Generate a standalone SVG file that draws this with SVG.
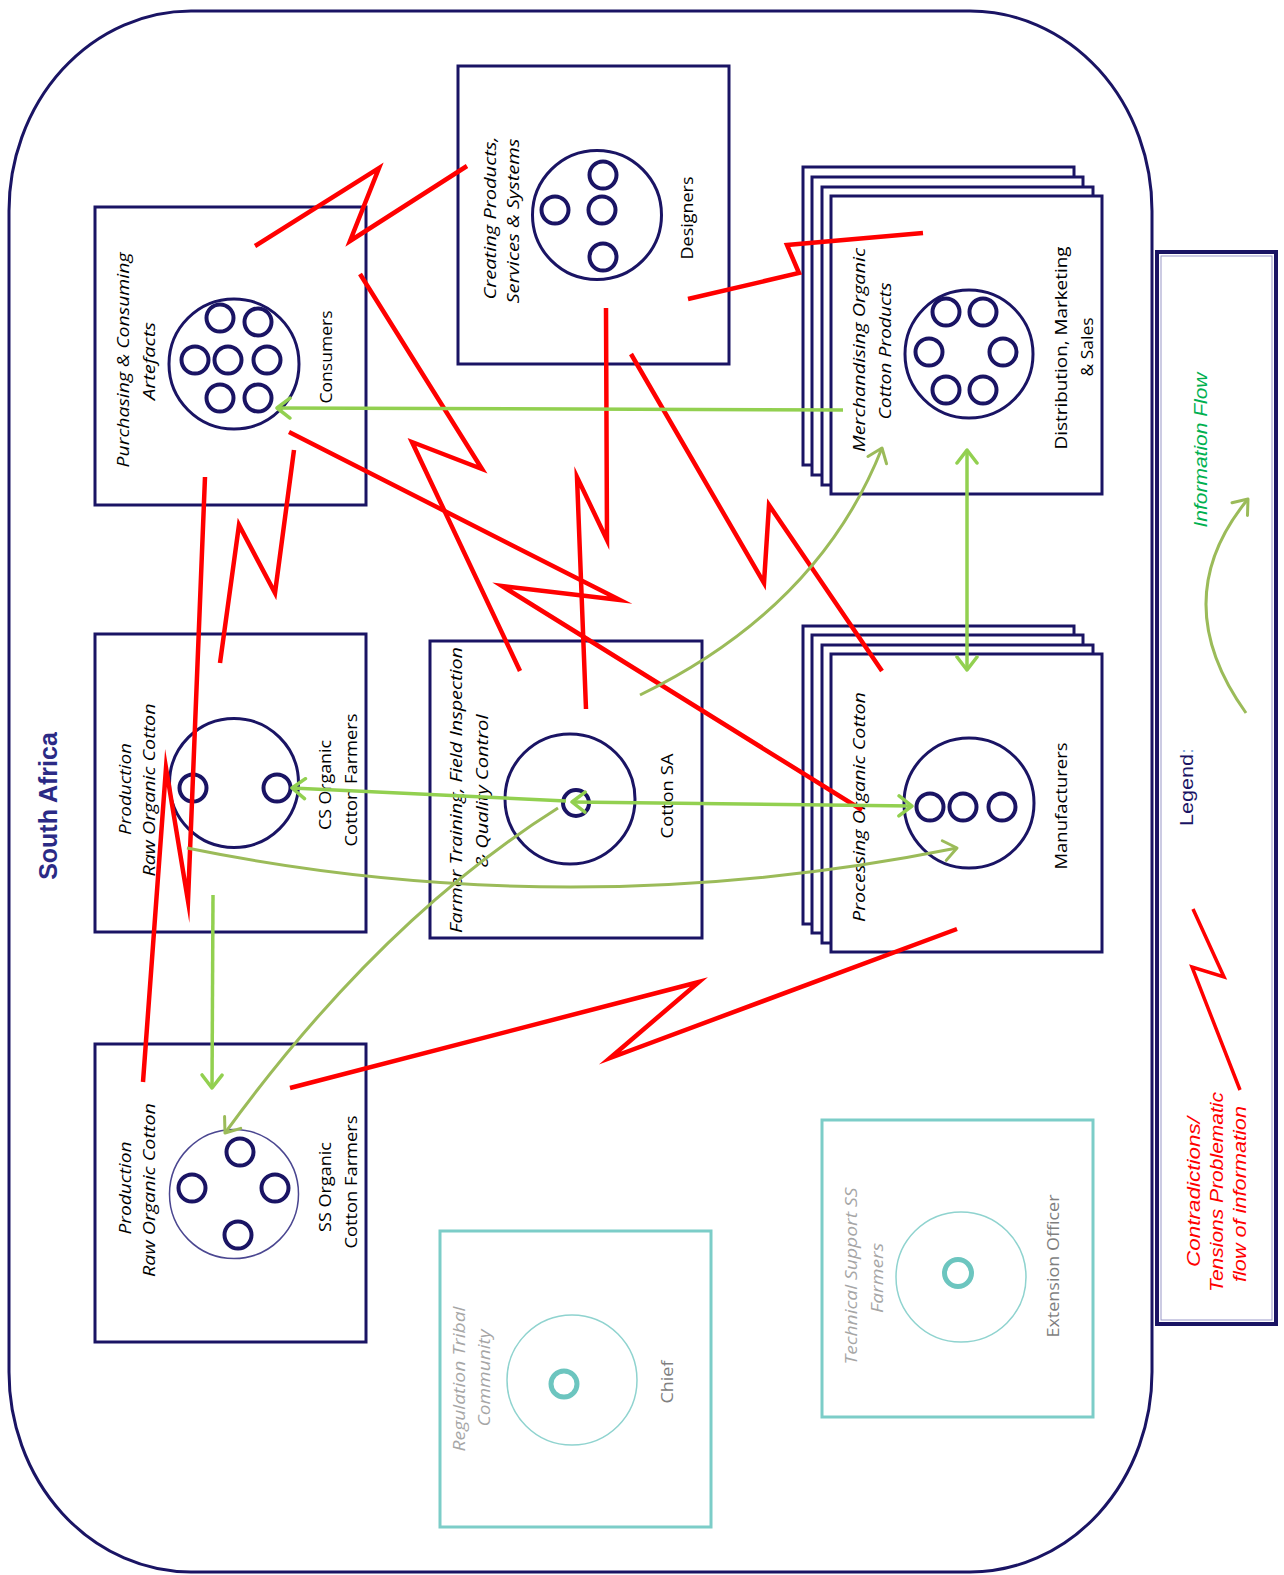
<svg xmlns="http://www.w3.org/2000/svg" width="1284" height="1575" viewBox="0 0 1284 1575">
  <style>
    .box { fill: #ffffff; stroke: #1a1464; stroke-width: 3; }
    .ring { fill: none; stroke: #1a1464; stroke-width: 3; }
    .dot { fill: none; stroke: #1a1464; stroke-width: 4; }
    .tbox { fill: #ffffff; stroke: #7ccdc8; stroke-width: 3; }
    .tring { fill: none; stroke: #8fd3cf; stroke-width: 1.5; }
    .tdot { fill: none; stroke: #6cc5bf; stroke-width: 5; }
    .t { font-family: 'Open Sans', 'Liberation Sans', sans-serif; font-size: 17px; fill: #000000; text-anchor: middle; }
    .it { font-style: italic; }
    .grey { fill: #a6a6a6; }
    .dgrey { fill: #7f7f7f; }
    .red { fill: none; stroke: #ff0000; stroke-width: 4.5; stroke-linejoin: miter; stroke-miterlimit: 10; }
    .grn { fill: none; stroke: #92d050; stroke-width: 3.5; marker-end: url(#headG); }
    .grn2 { fill: none; stroke: #92d050; stroke-width: 3.5; marker-start: url(#headG); marker-end: url(#headG); }
    .olv { fill: none; stroke: #9bbb59; stroke-width: 3; marker-end: url(#headO); }
    .leg { font-family: 'Liberation Sans', Arial, sans-serif; text-anchor: middle; }
  </style>
  <defs>
    <marker id="headG" viewBox="-16 -12 18 24" refX="0" refY="0" markerWidth="18" markerHeight="24" markerUnits="userSpaceOnUse" orient="auto-start-reverse">
      <path d="M-13,-10 L0,0 L-13,10" fill="none" stroke="#92d050" stroke-width="3.5" stroke-linecap="round" stroke-linejoin="round"/>
    </marker>
    <marker id="headO" viewBox="-16 -12 18 24" refX="0" refY="0" markerWidth="18" markerHeight="24" markerUnits="userSpaceOnUse" orient="auto-start-reverse">
      <path d="M-13,-10 L0,0 L-13,10" fill="none" stroke="#9bbb59" stroke-width="3" stroke-linecap="round" stroke-linejoin="round"/>
    </marker>
  </defs>

  <rect width="1284" height="1575" fill="#ffffff"/>

  <!-- country boundary -->
  <g id="south-africa">
    <rect x="9" y="11" width="1143" height="1561" rx="182" ry="200" fill="none" stroke="#1a1464" stroke-width="3"/>
    <text transform="translate(57,806) rotate(-90)" font-family="'Liberation Sans', Arial, sans-serif" font-size="25" font-weight="bold" fill="#2b2a85" text-anchor="middle">South Africa</text>
  </g>

  <!-- consumers -->
  <g id="consumers">
    <rect class="box" x="95" y="207" width="271" height="298"/>
    <circle class="ring" cx="234" cy="364" r="65"/>
    <circle class="dot" cx="220" cy="318" r="13.5"/>
    <circle class="dot" cx="258" cy="322" r="13.5"/>
    <circle class="dot" cx="195" cy="360" r="13.5"/>
    <circle class="dot" cx="228" cy="360" r="13.5"/>
    <circle class="dot" cx="267" cy="360" r="13.5"/>
    <circle class="dot" cx="220" cy="398" r="13.5"/>
    <circle class="dot" cx="258" cy="398" r="13.5"/>
    <text class="t it" transform="translate(129,360) rotate(-90)" textLength="215" lengthAdjust="spacingAndGlyphs">Purchasing &amp; Consuming</text>
    <text class="t it" transform="translate(155,361) rotate(-90)" textLength="78" lengthAdjust="spacingAndGlyphs">Artefacts</text>
    <text class="t" transform="translate(332,357) rotate(-90)" textLength="93" lengthAdjust="spacingAndGlyphs">Consumers</text>
  </g>

  <!-- designers -->
  <g id="designers">
    <rect class="box" x="458" y="66" width="271" height="298"/>
    <circle class="ring" cx="597" cy="215" r="64.5"/>
    <circle class="dot" cx="603" cy="175" r="13.5"/>
    <circle class="dot" cx="555" cy="210" r="13.5"/>
    <circle class="dot" cx="602" cy="210" r="13.5"/>
    <circle class="dot" cx="603" cy="257" r="13.5"/>
    <text class="t it" transform="translate(496,218) rotate(-90)" textLength="163" lengthAdjust="spacingAndGlyphs">Creating Products,</text>
    <text class="t it" transform="translate(519,221) rotate(-90)" textLength="165" lengthAdjust="spacingAndGlyphs">Services &amp; Systems</text>
    <text class="t" transform="translate(693,218) rotate(-90)" textLength="83" lengthAdjust="spacingAndGlyphs">Designers</text>
  </g>

  <!-- distribution, marketing & sales (stacked) -->
  <g id="distribution">
    <rect class="box" x="803" y="167" width="271" height="298"/>
    <rect class="box" x="812" y="177" width="271" height="298"/>
    <rect class="box" x="822" y="187" width="271" height="298"/>
    <rect class="box" x="831" y="196" width="271" height="298"/>
    <circle class="ring" cx="969" cy="354" r="64"/>
    <circle class="dot" cx="946" cy="312" r="13.5"/>
    <circle class="dot" cx="983" cy="312" r="13.5"/>
    <circle class="dot" cx="929" cy="352" r="13.5"/>
    <circle class="dot" cx="1003" cy="352" r="13.5"/>
    <circle class="dot" cx="946" cy="390" r="13.5"/>
    <circle class="dot" cx="983" cy="390" r="13.5"/>
    <text class="t it" transform="translate(865,350) rotate(-90)" textLength="204" lengthAdjust="spacingAndGlyphs">Merchandising Organic</text>
    <text class="t it" transform="translate(891,351) rotate(-90)" textLength="137" lengthAdjust="spacingAndGlyphs">Cotton Products</text>
    <text class="t" transform="translate(1067,348) rotate(-90)" textLength="203" lengthAdjust="spacingAndGlyphs">Distribution, Marketing</text>
    <text class="t" transform="translate(1093,347) rotate(-90)" textLength="59" lengthAdjust="spacingAndGlyphs">&amp; Sales</text>
  </g>

  <!-- CS organic cotton farmers -->
  <g id="cs-farmers">
    <rect class="box" x="95" y="634" width="271" height="298"/>
    <circle class="ring" cx="234" cy="783" r="64.5"/>
    <circle class="dot" cx="193" cy="788" r="13.5"/>
    <circle class="dot" cx="277" cy="788" r="13.5"/>
    <text class="t it" transform="translate(131,789) rotate(-90)" textLength="92" lengthAdjust="spacingAndGlyphs">Production</text>
    <text class="t it" transform="translate(155,790) rotate(-90)" textLength="173" lengthAdjust="spacingAndGlyphs">Raw Organic Cotton</text>
    <text class="t" transform="translate(331,785) rotate(-90)" textLength="90" lengthAdjust="spacingAndGlyphs">CS Organic</text>
    <text class="t" transform="translate(357,780) rotate(-90)" textLength="133" lengthAdjust="spacingAndGlyphs">Cotton Farmers</text>
  </g>

  <!-- Cotton SA -->
  <g id="cotton-sa">
    <rect class="box" x="430" y="641" width="272" height="297"/>
    <circle class="ring" cx="570" cy="799" r="65"/>
    <circle class="dot" cx="576" cy="803" r="13"/>
    <text class="t it" transform="translate(462,790) rotate(-90)" textLength="286" lengthAdjust="spacingAndGlyphs">Farmer Training, Field Inspection</text>
    <text class="t it" transform="translate(488,791) rotate(-90)" textLength="153" lengthAdjust="spacingAndGlyphs">&amp; Quality Control</text>
    <text class="t" transform="translate(673,796) rotate(-90)" textLength="85" lengthAdjust="spacingAndGlyphs">Cotton SA</text>
  </g>

  <!-- manufacturers (stacked) -->
  <g id="manufacturers">
    <rect class="box" x="803" y="626" width="271" height="298"/>
    <rect class="box" x="812" y="635" width="271" height="298"/>
    <rect class="box" x="822" y="645" width="271" height="298"/>
    <rect class="box" x="831" y="654" width="271" height="298"/>
    <circle class="ring" cx="969" cy="803" r="65"/>
    <circle class="dot" cx="930" cy="807" r="13.5"/>
    <circle class="dot" cx="963" cy="807" r="13.5"/>
    <circle class="dot" cx="1002" cy="807" r="13.5"/>
    <text class="t it" transform="translate(865,807) rotate(-90)" textLength="230" lengthAdjust="spacingAndGlyphs">Processing Organic Cotton</text>
    <text class="t" transform="translate(1067,806) rotate(-90)" textLength="127" lengthAdjust="spacingAndGlyphs">Manufacturers</text>
  </g>

  <!-- SS organic cotton farmers -->
  <g id="ss-farmers">
    <rect class="box" x="95" y="1044" width="271" height="298"/>
    <circle cx="234" cy="1194" r="64.5" fill="none" stroke="#4a4690" stroke-width="1.5"/>
    <circle class="dot" cx="240" cy="1152" r="13.5"/>
    <circle class="dot" cx="192" cy="1188" r="13.5"/>
    <circle class="dot" cx="275" cy="1188" r="13.5"/>
    <circle class="dot" cx="238" cy="1235" r="13.5"/>
    <text class="t it" transform="translate(131,1188) rotate(-90)" textLength="93" lengthAdjust="spacingAndGlyphs">Production</text>
    <text class="t it" transform="translate(155,1190) rotate(-90)" textLength="174" lengthAdjust="spacingAndGlyphs">Raw Organic Cotton</text>
    <text class="t" transform="translate(331,1187) rotate(-90)" textLength="90" lengthAdjust="spacingAndGlyphs">SS Organic</text>
    <text class="t" transform="translate(357,1182) rotate(-90)" textLength="133" lengthAdjust="spacingAndGlyphs">Cotton Farmers</text>
  </g>

  <!-- chief -->
  <g id="chief">
    <rect class="tbox" x="440" y="1231" width="271" height="296"/>
    <circle class="tring" cx="572" cy="1380" r="65"/>
    <circle class="tdot" cx="564" cy="1384" r="13"/>
    <text class="t it grey" transform="translate(465,1379) rotate(-90)" textLength="145" lengthAdjust="spacingAndGlyphs">Regulation Tribal</text>
    <text class="t it grey" transform="translate(490,1378) rotate(-90)" textLength="97" lengthAdjust="spacingAndGlyphs">Community</text>
    <text class="t dgrey" transform="translate(673,1382) rotate(-90)" textLength="43" lengthAdjust="spacingAndGlyphs">Chief</text>
  </g>

  <!-- extension officer -->
  <g id="extension-officer">
    <rect class="tbox" x="822" y="1120" width="271" height="297"/>
    <circle class="tring" cx="961" cy="1277" r="65"/>
    <circle class="tdot" cx="958" cy="1273" r="13.5"/>
    <text class="t it grey" transform="translate(857,1276) rotate(-90)" textLength="177" lengthAdjust="spacingAndGlyphs">Technical Support SS</text>
    <text class="t it grey" transform="translate(883,1278) rotate(-90)" textLength="70" lengthAdjust="spacingAndGlyphs">Farmers</text>
    <text class="t dgrey" transform="translate(1059,1266) rotate(-90)" textLength="143" lengthAdjust="spacingAndGlyphs">Extension Officer</text>
  </g>

  <!-- legend -->
  <g id="legend">
    <rect x="1157" y="252" width="119" height="1072" fill="#ffffff" stroke="#1a1464" stroke-width="4"/>
    <rect x="1161" y="256" width="111" height="1064" fill="none" stroke="#9a98c8" stroke-width="1"/>
    <text class="leg" transform="translate(1207,450) rotate(-90)" font-size="18" font-style="italic" fill="#00b050" textLength="155" lengthAdjust="spacingAndGlyphs">Information Flow</text>
    <path d="M1246,713 Q1165,600 1248,499" fill="none" stroke="#9bbb59" stroke-width="3" marker-end="url(#headO)"/>
    <text class="leg" transform="translate(1193,787) rotate(-90)" font-size="18" fill="#1a1464" textLength="78" lengthAdjust="spacingAndGlyphs">Legend<tspan fill="#7fa8e0">:</tspan></text>
    <polyline points="1193,909 1224,977 1192,967 1240,1090" fill="none" stroke="#ff0000" stroke-width="3.5"/>
    <text class="leg" transform="translate(1200,1192) rotate(-90)" font-size="18" font-style="italic" fill="#ff0000" textLength="150" lengthAdjust="spacingAndGlyphs">Contradictions/</text>
    <text class="leg" transform="translate(1223,1192) rotate(-90)" font-size="18" font-style="italic" fill="#ff0000" textLength="200" lengthAdjust="spacingAndGlyphs">Tensions Problematic</text>
    <text class="leg" transform="translate(1246,1194) rotate(-90)" font-size="18" font-style="italic" fill="#ff0000" textLength="176" lengthAdjust="spacingAndGlyphs">flow of information</text>
  </g>

  <!-- connectors: red = contradictions/tensions, green = information flow -->
  <g id="connectors">
    <polyline class="red" points="255,246 379,168 350,241 467,166"/>
    <polyline class="red" points="688,299 799,273 787,245 923,233"/>
    <polyline class="red" points="360,274 482,469 412,442 520,671"/>
    <polyline class="red" points="289,432 620,600 502,586 862,810"/>
    <polyline class="red" points="606,308 607,540 577,477 586,709"/>
    <polyline class="red" points="631,354 764,583 769,505 882,671"/>
    <polyline class="red" points="294,450 275,593 239,525 220,663"/>
    <polyline class="red" points="205,477 188,901 166,768 143,1082"/>
    <polyline class="red" points="290,1088 699,982 610,1058 957,929"/>

    <line class="grn" x1="843" y1="410" x2="277" y2="408"/>
    <path class="olv" d="M640,695 Q819,608 882,448"/>
    <line class="grn2" x1="967" y1="450" x2="967" y2="670"/>
    <line class="grn" x1="566" y1="801" x2="292" y2="788"/>
    <line class="grn2" x1="572" y1="802" x2="912" y2="806"/>
    <path class="olv" d="M558,808 Q380,920 225,1133"/>
    <path class="olv" d="M187,848 Q570,926 957,848"/>
    <line class="grn" x1="213" y1="895" x2="212" y2="1088"/>
  </g>
</svg>
